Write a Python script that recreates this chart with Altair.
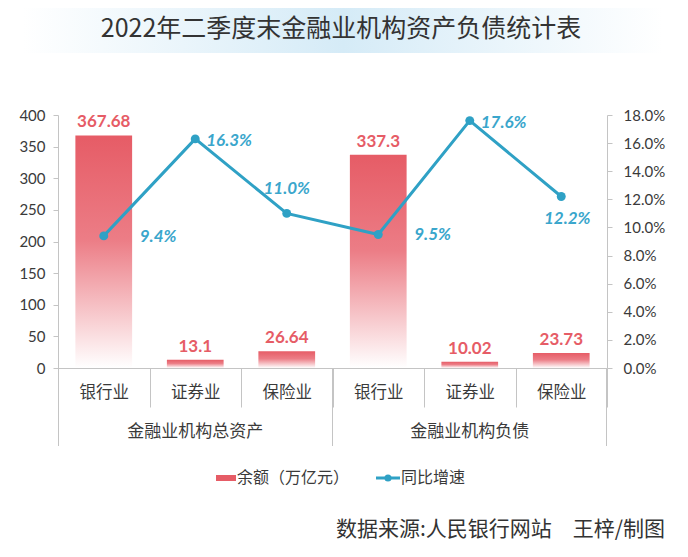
import altair as alt
import pandas as pd

# ---- data ----
groups = ["金融业机构总资产"] * 3 + ["金融业机构负债"] * 3
categories = ["银行业", "证券业", "保险业", "银行业", "证券业", "保险业"]
balances = [367.68, 13.1, 26.64, 337.3, 10.02, 23.73]
balance_labels = ["367.68", "13.1", "26.64", "337.3", "10.02", "23.73"]
growth = [0.094, 0.163, 0.110, 0.095, 0.176, 0.122]
growth_labels = ["9.4%", "16.3%", "11.0%", "9.5%", "17.6%", "12.2%"]
left_ticks = [0, 50, 100, 150, 200, 250, 300, 350, 400]
right_ticks = [0, 0.02, 0.04, 0.06, 0.08, 0.10, 0.12, 0.14, 0.16, 0.18]

title_text = "2022年二季度末金融业机构资产负债统计表"
legend_bar = "余额（万亿元）"
legend_line = "同比增速"
source_text = "数据来源:人民银行网站　王梓/制图"

keys = [f"{i}|{c}" for i, c in enumerate(categories)]
df = pd.DataFrame({
    "key": keys, "group": groups, "cat": categories,
    "balance": balances, "blabel": balance_labels,
    "growth": growth, "glabel": growth_labels,
})

CJK = "Noto Sans CJK SC"
NUM = "Lato"
W, H = 549, 253
RED = "#e65c66"
BLUE = "#2fa1c5"
GREY = "#c4c4c4"
TXT = "#3a3a3a"

bar_grad = alt.Gradient(gradient="linear", x1=0, y1=0, x2=0, y2=1,
                        stops=[alt.GradientStop(offset=0, color="#e65c66"),
                               alt.GradientStop(offset=0.45, color="#ec7d86"),
                               alt.GradientStop(offset=1, color="#ffffff")])

base = alt.Chart(df)

x_enc = alt.X("key:N", sort=keys,
              scale=alt.Scale(paddingInner=0, paddingOuter=0),
              axis=alt.Axis(title=None, labelExpr="split(datum.label,'|')[1]",
                            labelAngle=0, tickBand="extent", tickSize=39,
                            tickColor=GREY, domainColor=GREY, labelPadding=-23,
                            labelFontSize=16.5, labelColor=TXT, labelFont=CJK))

y_left = alt.Y("balance:Q",
               scale=alt.Scale(domain=[0, 400], nice=False),
               axis=alt.Axis(title=None, values=left_ticks, grid=False,
                             tickSize=5, tickColor=GREY, domainColor=GREY,
                             labelPadding=8, labelFontSize=15, labelColor=TXT,
                             labelFont=NUM))

bars = base.mark_bar(width=alt.RelativeBandSize(0.62), color=bar_grad).encode(
    x=x_enc, y=y_left)
bar_text = base.mark_text(dy=-13, fontWeight="bold", color=RED, fontSize=17,
                          font=NUM).encode(x=x_enc, y=y_left, text="blabel:N")
left_layer = alt.layer(bars, bar_text)

y_right = alt.Y("growth:Q",
                scale=alt.Scale(domain=[0, 0.18], nice=False),
                axis=alt.Axis(title=None, orient="right", values=right_ticks,
                              format=".1%", grid=False, tickSize=5,
                              tickColor=GREY, domainColor=GREY, labelPadding=11,
                              labelFontSize=15, labelColor=TXT, labelFont=NUM))

line = base.mark_line(color=BLUE, strokeWidth=3).encode(x=x_enc, y=y_right)
pts = base.mark_point(filled=True, size=80, color=BLUE, opacity=1).encode(
    x=x_enc, y=y_right)
gl_style = dict(fontWeight="bold", fontStyle="italic", color="#3aa6cc",
                fontSize=17, font=NUM)
g_far = base.mark_text(align="left", dx=36, dy=1, **gl_style).encode(
    x=x_enc, y=y_right, text="glabel:N").transform_filter(
    alt.FieldOneOfPredicate(field="key", oneOf=[keys[0], keys[3]]))
g_near = base.mark_text(align="left", dx=11, dy=2, **gl_style).encode(
    x=x_enc, y=y_right, text="glabel:N").transform_filter(
    alt.FieldOneOfPredicate(field="key", oneOf=[keys[1], keys[4]]))
g_above = base.mark_text(dy=-24, **gl_style).encode(
    x=x_enc, y=y_right, text="glabel:N").transform_filter(
    alt.FieldEqualPredicate(field="key", equal=keys[2]))
g_below = base.mark_text(dx=6, dy=22, **gl_style).encode(
    x=x_enc, y=y_right, text="glabel:N").transform_filter(
    alt.FieldEqualPredicate(field="key", equal=keys[5]))
right_layer = alt.layer(line, pts, g_far, g_near, g_above, g_below)

# group labels under the categories
grp_df = pd.DataFrame({"key": [keys[1], keys[4]], "group": [groups[0], groups[3]]})
grp_text = alt.Chart(grp_df).mark_text(fontSize=17, color=TXT, font=CJK).encode(
    x=x_enc, y=alt.value(317), text="group:N")

one = alt.Data(values=[{"a": 1}])
seps = [alt.Chart(one).mark_rule(color=GREY, strokeWidth=1).encode(
    x=alt.value(xv), y=alt.value(H), y2=alt.value(331)) for xv in (0.5, W / 2, W - 0.5)]

# title banner
banner_grad = alt.Gradient(gradient="linear", x1=0, y1=0, x2=1, y2=0,
                           stops=[alt.GradientStop(offset=0, color="#ffffff"),
                                  alt.GradientStop(offset=0.5, color="#d5ebf7"),
                                  alt.GradientStop(offset=1, color="#ffffff")])
banner = alt.Chart(one).mark_rect(color=banner_grad).encode(
    x=alt.value(-35), x2=alt.value(605), y=alt.value(-110), y2=alt.value(-62))
title = alt.Chart(one).mark_text(fontSize=25, color="#333333", font=CJK).encode(
    x=alt.value(283), y=alt.value(-86), text=alt.value(title_text))

# legend
leg_rect = alt.Chart(one).mark_rect(color=RED).encode(
    x=alt.value(158), x2=alt.value(178), y=alt.value(360), y2=alt.value(366))
leg_t1 = alt.Chart(one).mark_text(align="left", fontSize=16, color=TXT, font=CJK).encode(
    x=alt.value(179), y=alt.value(363), text=alt.value(legend_bar))
leg_line = alt.Chart(one).mark_rule(color=BLUE, strokeWidth=3).encode(
    x=alt.value(318), x2=alt.value(342), y=alt.value(363))
leg_pt = alt.Chart(one).mark_point(filled=True, size=50, color=BLUE, opacity=1).encode(
    x=alt.value(330), y=alt.value(363))
leg_t2 = alt.Chart(one).mark_text(align="left", fontSize=16, color=TXT, font=CJK).encode(
    x=alt.value(343), y=alt.value(363), text=alt.value(legend_line))
source = alt.Chart(one).mark_text(align="right", fontSize=21, color="#333333", font=CJK).encode(
    x=alt.value(607), y=alt.value(415), text=alt.value(source_text))

chart = alt.layer(
    banner, title, left_layer, right_layer, grp_text, *seps,
    leg_rect, leg_t1, leg_line, leg_pt, leg_t2, source
).resolve_scale(y="independent").properties(
    width=W, height=H,
    padding={"left": 50, "top": 107, "right": 72, "bottom": 180},
    autosize=alt.AutoSizeParams(type="none"),
    background="white",
).configure_view(stroke=None)

chart.save("out.html", embed_options={"renderer": "svg", "actions": False})
